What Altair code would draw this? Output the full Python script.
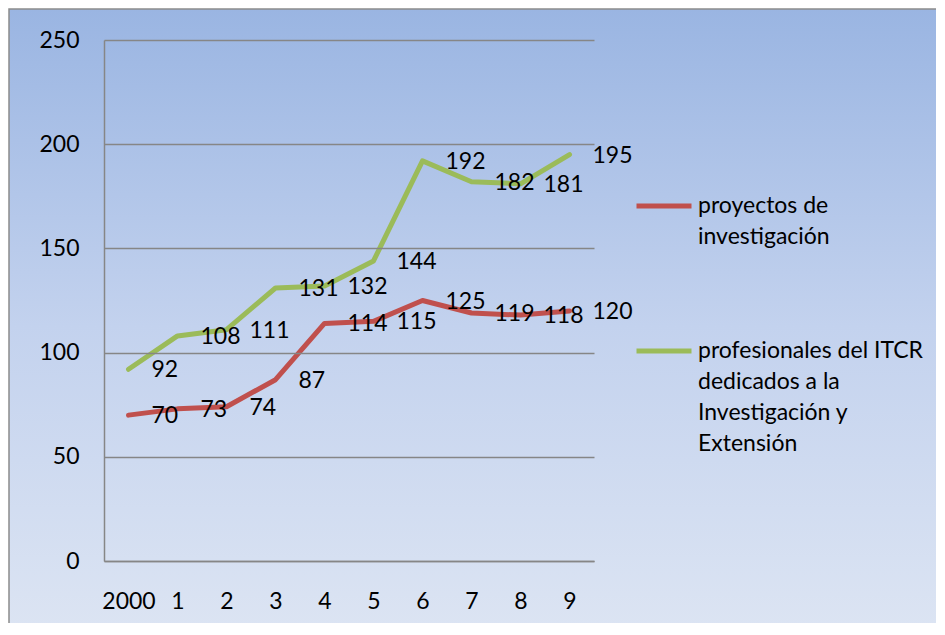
import json
import altair as alt
import pandas as pd

years = ["2000", "1", "2", "3", "4", "5", "6", "7", "8", "9"]
series_names = ["proyectos de investigación",
                "profesionales del ITCR dedicados a la Investigación y Extensión"]
proyectos = [70, 73, 74, 87, 114, 115, 125, 119, 118, 120]
profesionales = [92, 108, 111, 131, 132, 144, 192, 182, 181, 195]
legend_lines = [["proyectos de", "investigación"],
                ["profesionales del ITCR", "dedicados a la", "Investigación y", "Extensión"]]
colors = ["#C0504D", "#9BBB59"]
y_ticks = [0, 50, 100, 150, 200, 250]

rows = []
for s, vals in zip(series_names, [proyectos, profesionales]):
    for yr, v in zip(years, vals):
        rows.append({"year": yr, "value": v, "series": s})
df = pd.DataFrame(rows)

FONT = "Lato"
FS = 23
W, H = 490, 521
PAD = {"left": 96, "top": 32, "right": 342, "bottom": 62}

label_expr = " : ".join(
    f"datum.label == {json.dumps(n)} ? {json.dumps(l)}" for n, l in zip(series_names, legend_lines)
) + " : datum.label"

bg = alt.Chart(alt.InlineData(values=[{}])).mark_rect(
    fill=alt.Gradient(
        gradient="linear", x1=0, y1=0, x2=0, y2=1,
        stops=[alt.GradientStop(color="#9AB5E2", offset=0),
               alt.GradientStop(color="#C3D2EE", offset=0.5),
               alt.GradientStop(color="#DDE5F3", offset=1)],
    ),
    stroke="#8C8C8C", strokeWidth=1.5,
).encode(
    x=alt.value(-PAD["left"] + 1), x2=alt.value(W + PAD["right"] + 20),
    y=alt.value(-PAD["top"] + 1), y2=alt.value(H + PAD["bottom"] + 20),
)

x_enc = alt.X("year:N", sort=years, scale=alt.Scale(type="point", padding=0.5),
              axis=alt.Axis(title=None, labelAngle=0, ticks=False, domainColor="#868686",
                            domainWidth=1.5, labelPadding=29, labelFont=FONT,
                            labelFontSize=FS, labelColor="#000000", grid=False, zindex=1))
y_enc = alt.Y("value:Q", scale=alt.Scale(domain=[0, 250], nice=False),
              axis=alt.Axis(title=None, values=y_ticks, ticks=False, domainColor="#868686",
                            domainWidth=1.5, gridColor="#868686", gridWidth=1.5,
                            labelPadding=25, labelFont=FONT, labelFontSize=FS,
                            labelColor="#000000", zindex=1))

lines = alt.Chart(df).mark_line(strokeWidth=5, strokeCap="round", strokeJoin="round").encode(
    x=x_enc, y=y_enc,
    color=alt.Color("series:N", sort=series_names,
                    scale=alt.Scale(domain=series_names, range=colors),
                    legend=alt.Legend(title=None, orient="none", legendX=530, legendY=136,
                                      symbolType="stroke", symbolSize=3025,
                                      symbolStrokeWidth=5, labelFont=FONT,
                                      labelFontSize=FS, labelLimit=400,
                                      labelExpr=label_expr, labelOffset=4,
                                      rowPadding=72, labelColor="#000000", zindex=2)),
)

labels = alt.Chart(df).mark_text(align="left", baseline="middle", dx=23, dy=1,
                                 font=FONT, fontSize=FS, color="#000000").encode(
    x=alt.X("year:N", sort=years), y="value:Q", text="value:Q",
)

chart = alt.layer(bg, lines, labels).properties(
    width=W, height=H, autosize=alt.AutoSizeParams(type="none"), padding=PAD,
).configure_view(stroke=None).configure(
    background="white", style={"guide-label": {"lineHeight": 31}}
)

chart.save("out.html", embed_options={"renderer": "svg", "actions": False})
